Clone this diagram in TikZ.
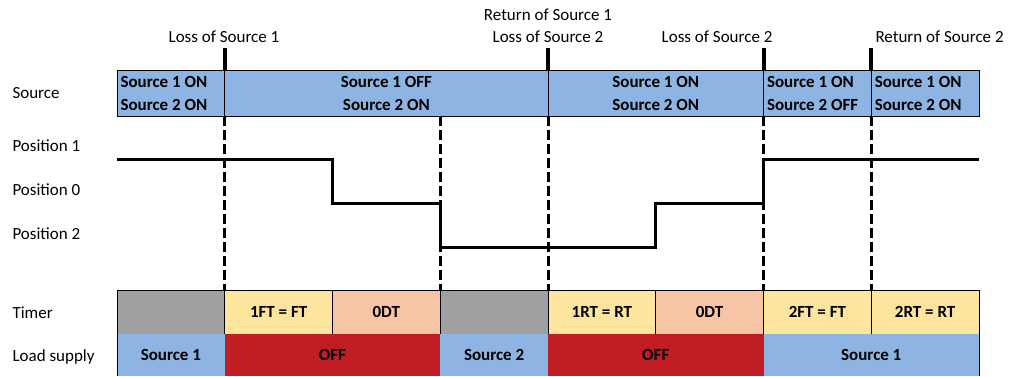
\documentclass[tikz,border=0pt]{standalone}
\usepackage{fontspec}
\setmainfont{Carlito}
\usetikzlibrary{positioning}

\definecolor{srcblue}{RGB}{141,180,226}
\definecolor{idlegray}{RGB}{160,160,160}
\definecolor{timeryellow}{RGB}{253,229,158}
\definecolor{dtsalmon}{RGB}{247,196,166}
\definecolor{offred}{RGB}{192,30,36}

\begin{document}
\begin{tikzpicture}[
    x=1pt, y=-1pt,
    font=\fontsize{17}{23}\selectfont,
    lbl/.style={anchor=west},
    srccell/.style={rectangle, draw, line width=0.6pt, fill=srcblue, anchor=north west, inner sep=0pt, outer sep=0pt, minimum height=46pt, align=center, font=\fontsize{17}{23}\selectfont\bfseries},
    srcleft/.style={srccell, align=flush left, inner xsep=3.5pt},
    cell/.style={rectangle, draw, line width=0.6pt, anchor=north west, inner sep=0pt, outer sep=0pt, minimum height=44pt, minimum width=107.75pt, font=\fontsize{17}{23}\selectfont\bfseries},
    load/.style={rectangle, anchor=north west, inner sep=0pt, outer sep=0pt, minimum height=42pt, font=\fontsize{17}{23}\selectfont\bfseries},
    tick/.style={line width=4pt},
    marker/.style={line width=3pt, dash pattern=on 10pt off 4pt},
    trace/.style={line width=3pt}
]
\useasboundingbox (0,0) rectangle (1009,376);

% row labels
\node[lbl] (lsrc) at (9,93) {Source};
\node[lbl] (lpos1) at (9,146) {Position 1};
\node[lbl] (lpos0) at (9,190) {Position 0};
\node[lbl] (lpos2) at (9,234) {Position 2};
\node[lbl] (ltmr) at (9,313) {Timer};
\node[lbl] (lload) at (9,357) {Load supply};

% source bar
\node[srcleft, text width=100.75pt] (s1) at (117,70) {Source 1 ON\\Source 2 ON};
\node[srccell, minimum width=323.25pt, right=0pt of s1] (s2) {Source 1 OFF\\Source 2 ON};
\node[srccell, minimum width=215.5pt, right=0pt of s2] (s3) {Source 1 ON\\Source 2 ON};
\node[srcleft, text width=100.75pt, right=0pt of s3] (s4) {Source 1 ON\\Source 2 OFF};
\node[srcleft, text width=100.75pt, right=0pt of s4] (s5) {Source 1 ON\\Source 2 ON};

% timer row
\node[cell, fill=idlegray] (t1) at (117,290) {};
\node[cell, fill=timeryellow, right=0pt of t1] (t2) {1FT = FT};
\node[cell, fill=dtsalmon, right=0pt of t2] (t3) {0DT};
\node[cell, fill=idlegray, right=0pt of t3] (t4) {};
\node[cell, fill=timeryellow, right=0pt of t4] (t5) {1RT = RT};
\node[cell, fill=dtsalmon, right=0pt of t5] (t6) {0DT};
\node[cell, fill=timeryellow, right=0pt of t6] (t7) {2FT = FT};
\node[cell, fill=timeryellow, right=0pt of t7] (t8) {2RT = RT};

% load supply row
\node[load, fill=srcblue, minimum width=107.75pt] (l1) at (117,334) {Source 1};
\node[load, fill=offred, minimum width=215.5pt, right=0pt of l1] (l2) {OFF};
\node[load, fill=srcblue, minimum width=107.75pt, right=0pt of l2] (l3) {Source 2};
\node[load, fill=offred, minimum width=215.5pt, right=0pt of l3] (l4) {OFF};
\node[load, fill=srcblue, minimum width=215.5pt, right=0pt of l4] (l5) {Source 1};
\draw[line width=0.6pt] (l1.north west) -- (l1.south west);
\draw[line width=0.6pt] (l5.north east) -- (l5.south east);

% events
\draw[tick] (s2.north west) -- ++(0,-22) coordinate (ev1);
\draw[tick] (s3.north west) -- ++(0,-22) coordinate (ev2);
\draw[tick] (s4.north west) -- ++(0,-22) coordinate (ev3);
\draw[tick] (s5.north west) -- ++(0,-22) coordinate (ev4);
\node (lossA) at (224,37) {Loss of Source 1};
\node (retA) at (548,15) {Return of Source 1};
\node (lossB) at (548,37) {Loss of Source 2};
\node[anchor=east] (lossC) at (776,37) {Loss of Source 2};
\node[anchor=west] (retB) at (872,37) {Return of Source 2};

% dashed markers
\draw[marker] (s2.south west) -- (t2.north west);
\draw[marker] (t4.north west |- s2.south) -- (t4.north west);
\draw[marker] (s3.south west) -- (t5.north west);
\draw[marker] (s4.south west) -- (t7.north west);
\draw[marker] (s5.south west) -- (t8.north west);

% switch position
\coordinate (lvl1) at (117,159);
\coordinate (lvl0) at (117,203);
\coordinate (lvl2) at (117,247);
\draw[trace] (lvl1) -| (t2.north east |- lvl0) -| (t3.north east |- lvl2) -| (t6.north west |- lvl0) -| (t7.north west |- lvl1) -- (t8.north east |- lvl1);

\end{tikzpicture}
\end{document}
